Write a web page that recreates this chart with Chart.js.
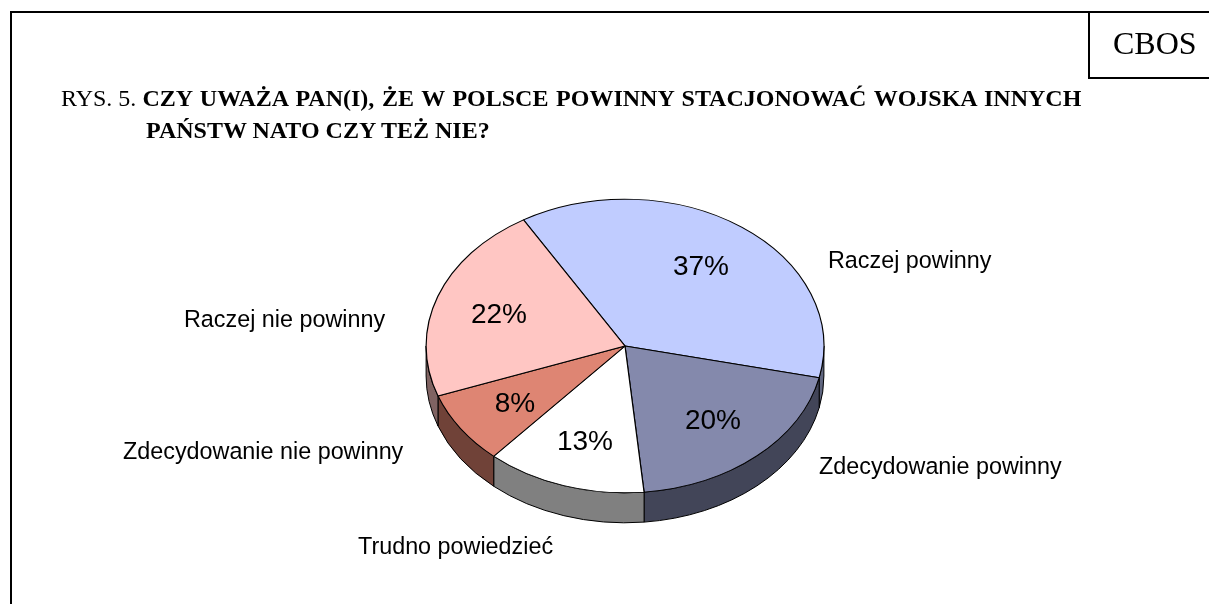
<!DOCTYPE html>
<html lang="pl"><head><meta charset="utf-8">
<style>
html,body{margin:0;padding:0;background:#fff;overflow:hidden;width:1209px;height:604px}
#wrap{position:relative;width:1209px;height:604px;overflow:hidden}
canvas{position:absolute;left:0;top:0}
.line{position:absolute;background:#000}
.t{position:absolute;font-family:"Liberation Serif",serif;color:#000;white-space:nowrap}
.t b{word-spacing:1.65px}
</style></head><body>
<div id="wrap">
<canvas id="c" width="1209" height="604"></canvas>
<div class="line" style="left:10px;top:11px;width:1199px;height:2px"></div>
<div class="line" style="left:10px;top:11px;width:2px;height:593px"></div>
<div class="line" style="left:1088px;top:11px;width:2px;height:67px"></div>
<div class="line" style="left:1088px;top:77px;width:121px;height:2px"></div>
<div class="t" style="left:1113px;top:25px;font-size:32px;line-height:37px">CBOS</div>
<div class="t" style="left:61px;top:84px;font-size:24px;line-height:28px">RYS. 5. <b>CZY UWAŻA PAN(I), ŻE W POLSCE POWINNY STACJONOWAĆ WOJSKA INNYCH</b></div>
<div class="t" style="left:146px;top:116px;font-size:24px;line-height:28px"><b style="word-spacing:0">PAŃSTW NATO CZY TEŻ NIE?</b></div>
</div>
<script src="https://cdn.jsdelivr.net/npm/chart.js@4/dist/chart.umd.min.js"></script>
<script>
const categories = ["Raczej powinny","Zdecydowanie powinny","Trudno powiedzieć","Zdecydowanie nie powinny","Raczej nie powinny"];
const percentages = [37,20,13,8,22];
const sliceColors = ["#C0CCFF","#8489AC","#FFFFFF","#DE8573","#FFC6C3"];
const sideColors = ["#606680","#424558","#808080","#704238","#806362"];
const categoryAnchors = [[828,262],[819,468],[358,548],[123,453],[184,321]];
const percentAnchors = [[701,267],[713,421],[585,442],[515,404],[499,315]];

const squash = 0.738, depth = 30;

const pie3d = {
  id:'pie3d',
  beforeDatasetsDraw(chart){
    const ctx = chart.ctx, arcs = chart.getDatasetMeta(0).data;
    ctx.save();
    ctx.lineWidth = 1; ctx.strokeStyle = '#000';
    arcs.forEach((el,i)=>{
      const r = el.outerRadius, ry = r*squash;
      const norm = a=>{let x=a; while(x<-Math.PI) x+=2*Math.PI; while(x>Math.PI) x-=2*Math.PI; return x;};
      let a = norm(el.startAngle), b = a + (el.endAngle-el.startAngle);
      const segs = [];
      [[0,Math.PI],[2*Math.PI,3*Math.PI],[-2*Math.PI,-Math.PI]].forEach(([lo,hi])=>{
        const s = Math.max(a,lo), e = Math.min(b,hi);
        if(e>s) segs.push([s,e]);
      });
      segs.forEach(([s,e])=>{
        ctx.beginPath();
        ctx.ellipse(el.x,el.y,r,ry,0,s,e);
        ctx.ellipse(el.x,el.y+depth,r,ry,0,e,s,true);
        ctx.closePath();
        ctx.fillStyle = sideColors[i];
        ctx.fill();
        ctx.stroke();
      });
    });
    ctx.restore();
    const el0 = arcs[0];
    ctx.save();
    ctx.translate(el0.x,el0.y);
    ctx.scale(1,squash);
    ctx.translate(-el0.x,-el0.y);
  },
  afterDatasetsDraw(chart){
    const ctx = chart.ctx;
    ctx.restore();
    ctx.save();
    ctx.fillStyle = '#000';
    ctx.textBaseline = 'middle';
    ctx.font = '23.35px "Liberation Sans", Arial, sans-serif';
    ctx.textAlign = 'left';
    categories.forEach((c,i)=>ctx.fillText(c,categoryAnchors[i][0],categoryAnchors[i][1]));
    ctx.font = '28px "Liberation Sans", Arial, sans-serif';
    ctx.textAlign = 'center';
    percentages.forEach((v,i)=>ctx.fillText(v+'%',percentAnchors[i][0],percentAnchors[i][1]));
    ctx.restore();
  }
};

new Chart(document.getElementById('c'),{
  type:'pie',
  data:{labels:categories,datasets:[{data:percentages,backgroundColor:sliceColors,borderColor:'#000',borderWidth:1.2,borderAlign:'center'}]},
  options:{
    responsive:false,animation:false,
    rotation:-30.7,
    layout:{padding:{left:425.5,right:384.5,top:146.5,bottom:58.5}},
    plugins:{legend:{display:false},tooltip:{enabled:false},title:{display:false}}
  },
  plugins:[pie3d]
});
</script>
</body></html>
